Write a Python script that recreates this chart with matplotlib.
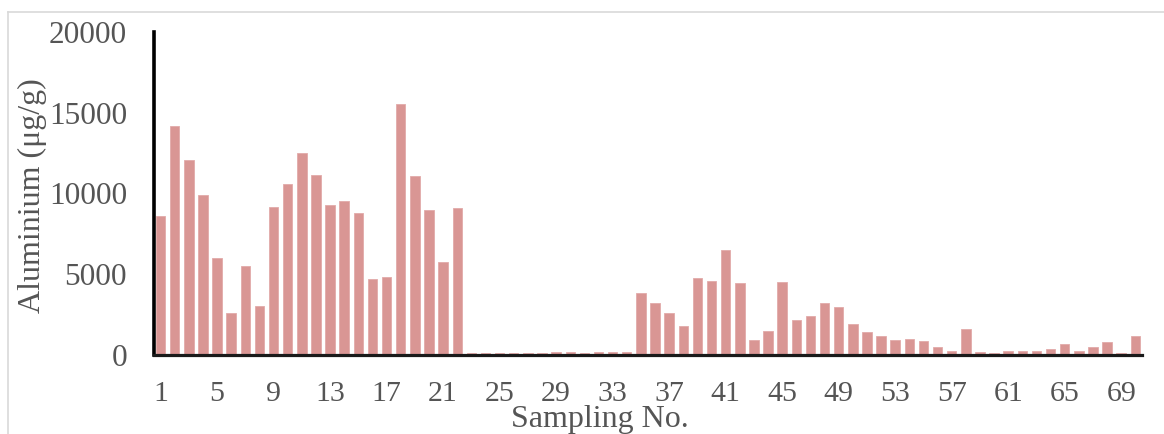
import matplotlib
matplotlib.use("Agg")
import matplotlib.pyplot as plt
from matplotlib.lines import Line2D

# Aluminium content per sampling point (µg/g)
sample_no = list(range(1, 71))
aluminium = [
    8600, 14200, 12100, 9900, 6000, 2600, 5500, 3050, 9150, 10600,
    12500, 11150, 9300, 9550, 8800, 4700, 4850, 15550, 11100, 8950,
    5750, 9100, 130, 130, 130, 130, 150, 130, 170, 160,
    150, 200, 210, 180, 3850, 3250, 2600, 1800, 4750, 4600,
    6500, 4450, 950, 1500, 4550, 2150, 2400, 3250, 3000, 1900,
    1400, 1200, 950, 1000, 850, 520, 230, 1600, 190, 100,
    270, 270, 270, 380, 700, 220, 520, 800, 100, 1150,
]
tick_positions = list(range(1, 71, 4))
y_ticks = [0, 5000, 10000, 15000, 20000]

W, H = 1164, 434
fig = plt.figure(figsize=(W / 100, H / 100), dpi=100)
ax = fig.add_axes([153.5 / W, 1 - 355 / H, (1142.4 - 153.5) / W, (355 - 32) / H])

bar_color = "#D99694"
ax.bar(sample_no, aluminium, width=0.67, color=bar_color,
       edgecolor="#E2AAA9", linewidth=0.6, zorder=2)

ax.set_xlim(0.5, 70.5)
ax.set_ylim(0, 20000)
ax.set_xticks(tick_positions)
ax.set_xticklabels([str(t) for t in tick_positions])
ax.set_yticks(y_ticks)
ax.set_yticklabels([str(t) for t in y_ticks])

serif = ["Liberation Serif", "DejaVu Serif"]
grey = "#555555"
ax.tick_params(axis="both", length=0, colors=grey)
ax.tick_params(axis="y", pad=19, labelsize=22.5)
ax.tick_params(axis="x", pad=19, labelsize=21.5)
for lbl in ax.get_xticklabels() + ax.get_yticklabels():
    lbl.set_family(serif)
    lbl.set_color(grey)

for side in ("top", "right"):
    ax.spines[side].set_visible(False)
ax.spines["left"].set_linewidth(2.6)
ax.spines["left"].set_color("black")
ax.spines["bottom"].set_linewidth(2.3)
ax.spines["bottom"].set_color("#1a1a1a")
ax.spines["bottom"].set_zorder(3)

fig.text(32 / W, 1 - 196 / H, "Aluminium (μg/g)", rotation=90,
         ha="center", va="center", fontsize=23, family=serif, color=grey)
fig.text(600 / W, 7 / H, "Sampling No.", ha="center", va="baseline",
         fontsize=23, family=serif, color=grey)

# light frame around the chart area
frame_kw = dict(color="#D9D9D9", linewidth=1.2, transform=fig.transFigure)
fig.add_artist(Line2D([7.5 / W, 7.5 / W], [0, 1 - 11.5 / H], **frame_kw))
fig.add_artist(Line2D([7.5 / W, 1], [1 - 11.5 / H, 1 - 11.5 / H], **frame_kw))

fig.savefig("out.png", dpi=100, facecolor="white")
